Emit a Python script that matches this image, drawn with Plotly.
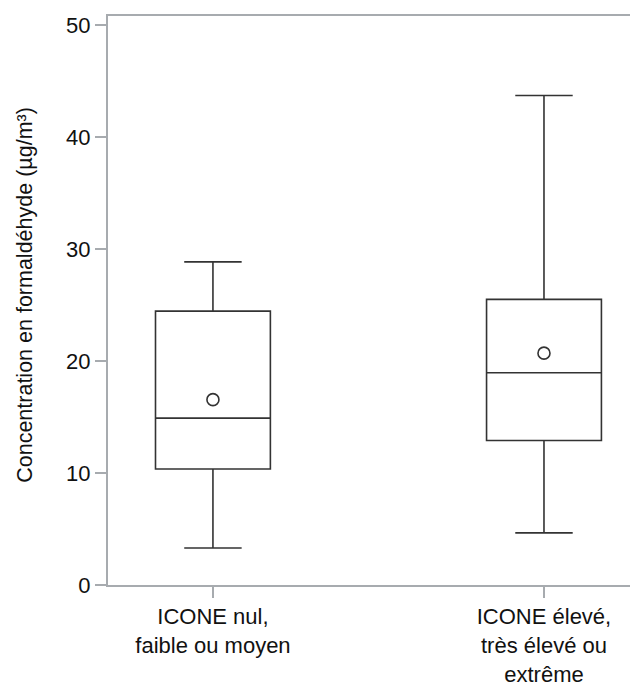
import plotly.graph_objects as go

categories = ["ICONE nul,<br>faible ou moyen", "ICONE élevé,<br>très élevé ou<br>extrême"]
lower_whisker = [3.3, 4.65]
q1_values = [10.35, 12.9]
median_values = [14.9, 18.95]
q3_values = [24.45, 25.5]
upper_whisker = [28.85, 43.7]
mean_values = [16.55, 20.7]

y_ticks = [0, 10, 20, 30, 40, 50]

LINE = "#333333"
AXIS = "#a7abaf"
FONT = "Liberation Sans, Arial, sans-serif"
TXT = "#111111"

fig = go.Figure()
fig.add_trace(go.Box(
    x=categories,
    lowerfence=lower_whisker,
    q1=q1_values,
    median=median_values,
    q3=q3_values,
    upperfence=upper_whisker,
    width=0.347,
    whiskerwidth=0.5,
    fillcolor="rgba(255,255,255,0)",
    line=dict(color=LINE, width=1.6),
    boxpoints=False,
    hoverinfo="skip",
    showlegend=False,
))
fig.add_trace(go.Scatter(
    x=categories,
    y=mean_values,
    mode="markers",
    marker=dict(symbol="circle-open", size=12, color=LINE, line=dict(width=1.6, color=LINE)),
    showlegend=False,
    hoverinfo="skip",
))

# page body has an 8px margin, so the figure is sized 630x677
fig.update_layout(
    width=630, height=677,
    margin=dict(l=100, r=0, t=8, b=100),
    paper_bgcolor="white",
    plot_bgcolor="white",
    font=dict(family=FONT, size=22, color=TXT),
    xaxis=dict(
        type="category",
        automargin=False,
        range=[-0.317, 1.284],
        showline=True, linecolor=AXIS, linewidth=2, mirror=True,
        ticks="outside", ticklen=11, tickcolor=AXIS, tickwidth=2,
        showgrid=False, zeroline=False,
        tickfont=dict(family=FONT, size=22, color=TXT),
    ),
    yaxis=dict(
        automargin=False,
        range=[0, 50.8],
        tickvals=y_ticks,
        showline=True, linecolor=AXIS, linewidth=2, mirror=False,
        ticks="outside", ticklen=11, tickcolor=AXIS, tickwidth=2,
        showgrid=False, zeroline=False,
        tickfont=dict(family=FONT, size=22, color=TXT),
    ),
    annotations=[dict(
        text="Concentration en formaldéhyde (µg/m³)",
        xref="paper", yref="paper", x=0, y=0.51,
        xshift=-83, xanchor="center", yanchor="middle",
        textangle=-90, showarrow=False,
        font=dict(family=FONT, size=21.5, color=TXT),
    )],
)

fig.write_html("out.html")
